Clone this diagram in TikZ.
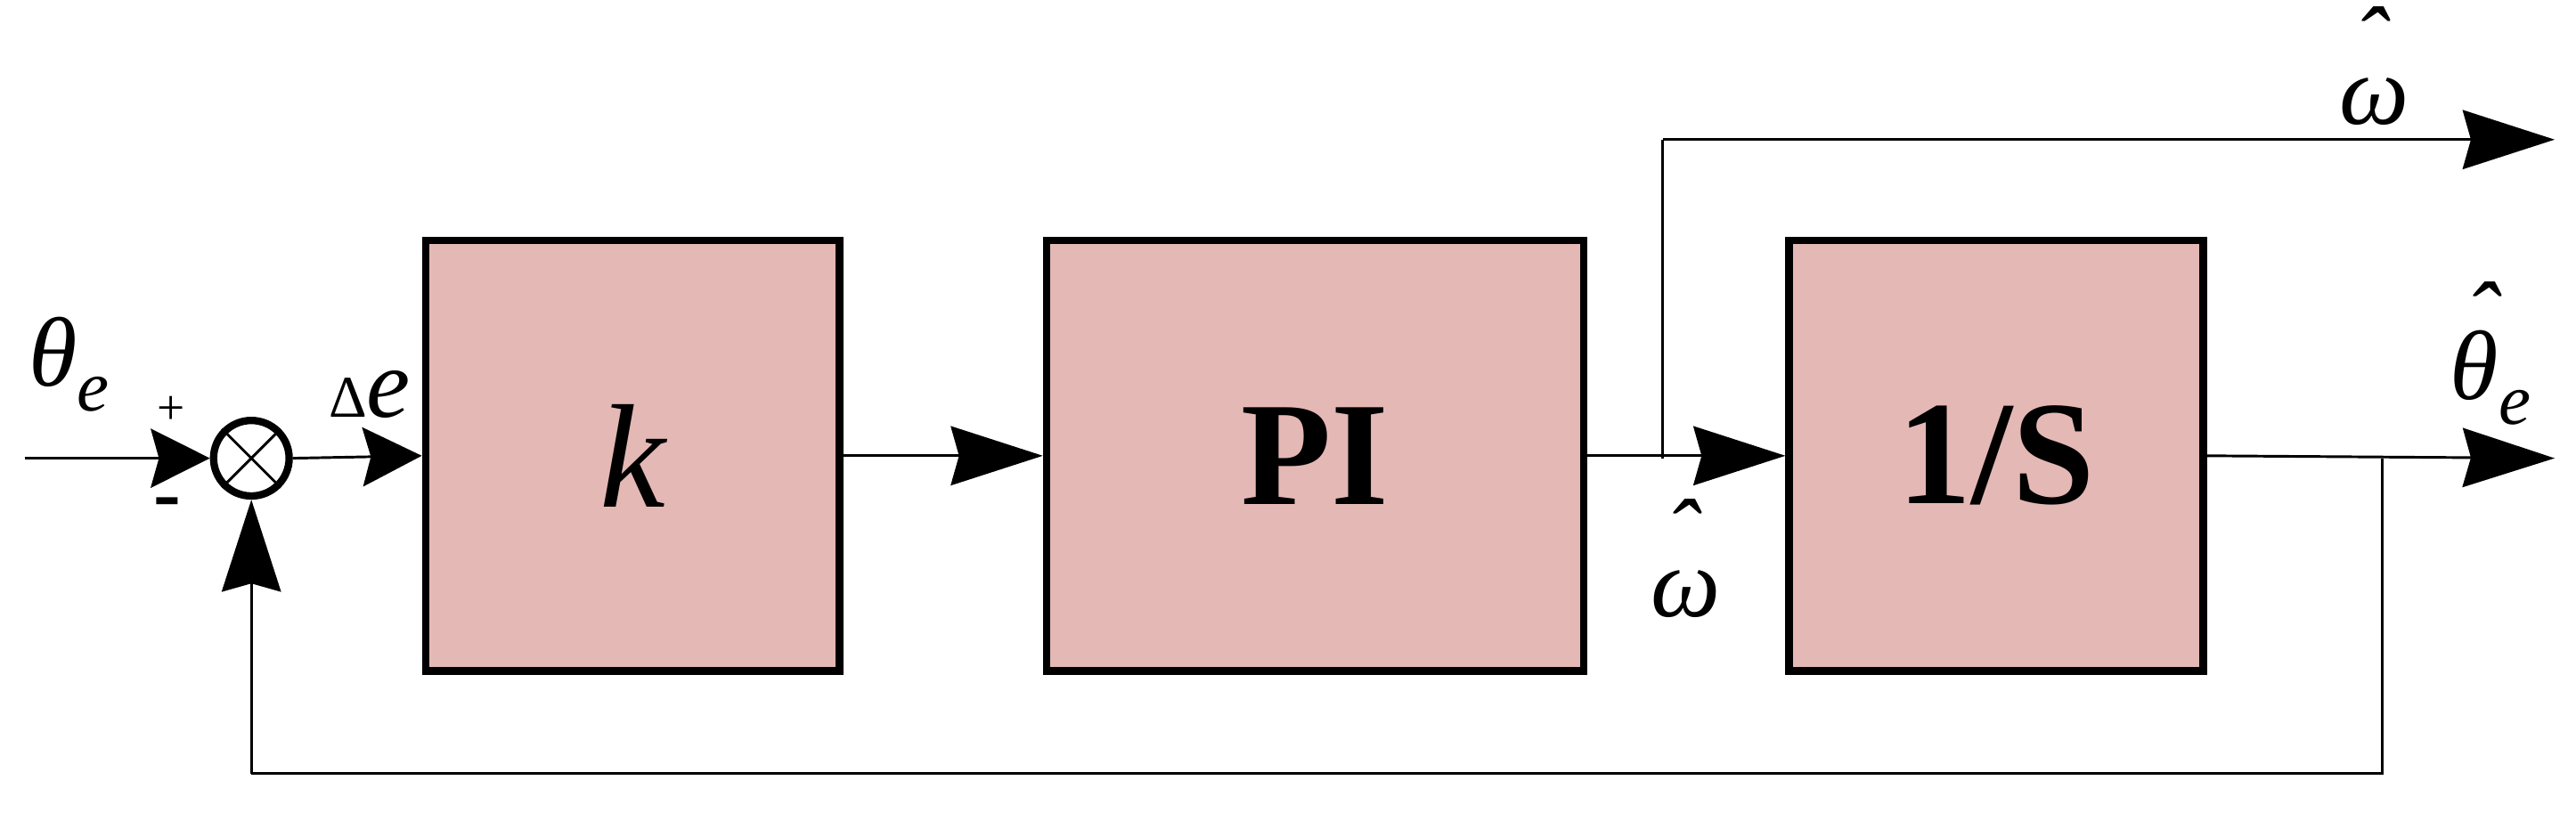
\documentclass[tikz,border=0pt]{standalone}
\usepackage{fontspec}
\setmainfont{Liberation Serif}
\usetikzlibrary{arrows.meta}
\definecolor{boxfill}{RGB}{228,184,181}
\newcommand\myhat[1]{\leavevmode\rlap{\raisebox{0.5em}{\kern0.15em ˆ}}#1}
\newcommand\mysub[1]{\raisebox{-0.25em}{\fontsize{44}{44}\selectfont\itshape #1}}
\tikzset{
  blk/.style={draw,line width=4.5pt,fill=boxfill,minimum width=250pt,minimum height=262pt,inner sep=0pt,font=\fontsize{90}{90}\selectfont\bfseries},
  wire/.style={line width=1.6pt},
  big/.style={-{Stealth[length=56pt,width=36pt,inset=5pt]}},
  small/.style={-{Stealth[length=36pt,width=36pt,inset=5pt]}},
  lbl/.style={font=\fontsize{60}{60}\selectfont\itshape,inner sep=0pt}
}
\begin{document}
\begin{tikzpicture}[x=1pt,y=-1pt]
\useasboundingbox (0,0) rectangle (1568,495);
\node[blk,minimum width=252pt,font=\fontsize{90}{90}\selectfont\itshape] (k) at (385,277.5) {k};
\node[blk,minimum width=327pt] (pi) at (800.5,277.5) {PI};
\node[blk,minimum width=252pt] (s) at (1215,277.5) {1/S};
\node[draw,circle,line width=4.5pt,minimum size=46pt,inner sep=0pt] (sum) at (153,279) {};
\draw[line width=1.6pt] (sum.45) -- (sum.225) (sum.135) -- (sum.315);
\coordinate (in) at (15,279);
\coordinate (br) at (1012,279);
\coordinate (top) at (1012,85);
\coordinate (o1) at (1555,85);
\coordinate (fb) at (1450,279);
\coordinate (o2) at (1555,279);
\coordinate (fbb) at (1450,471);
\coordinate (fbl) at (153,471);
\draw[wire,small] (in) -- (sum.west);
\draw[wire,small] (sum.east) -- (k.west);
\draw[wire,big] (k.east) -- (pi.west);
\draw[wire,big] (pi.east) -- (s.west);
\draw[wire] (br) -- (top);
\draw[wire,big] (top) -- (o1);
\draw[wire,big] (s.east) -- (o2);
\draw[wire] (fb) -- (fbb) -- (fbl);
\draw[wire,big] (fbl) -- (sum.south);
\node[lbl] (l1) at (42,222) {θ\mysub{e}};
\node[lbl,font=\fontsize{30}{30}\selectfont] (pl) at (104,250) {+};
\node[lbl,font=\fontsize{50}{50}\selectfont\bfseries] (mi) at (102,310) {-};
\node[lbl] (l2) at (225,240) {{\fontsize{36}{36}\selectfont\upshape Δ}e};
\node[lbl] (l3) at (1445,40) {\myhat{ω}};
\node[lbl] (l4) at (1026,340) {\myhat{ω}};
\node[lbl] (l5) at (1516,215) {\myhat{θ}\mysub{e}};
\end{tikzpicture}
\end{document}
